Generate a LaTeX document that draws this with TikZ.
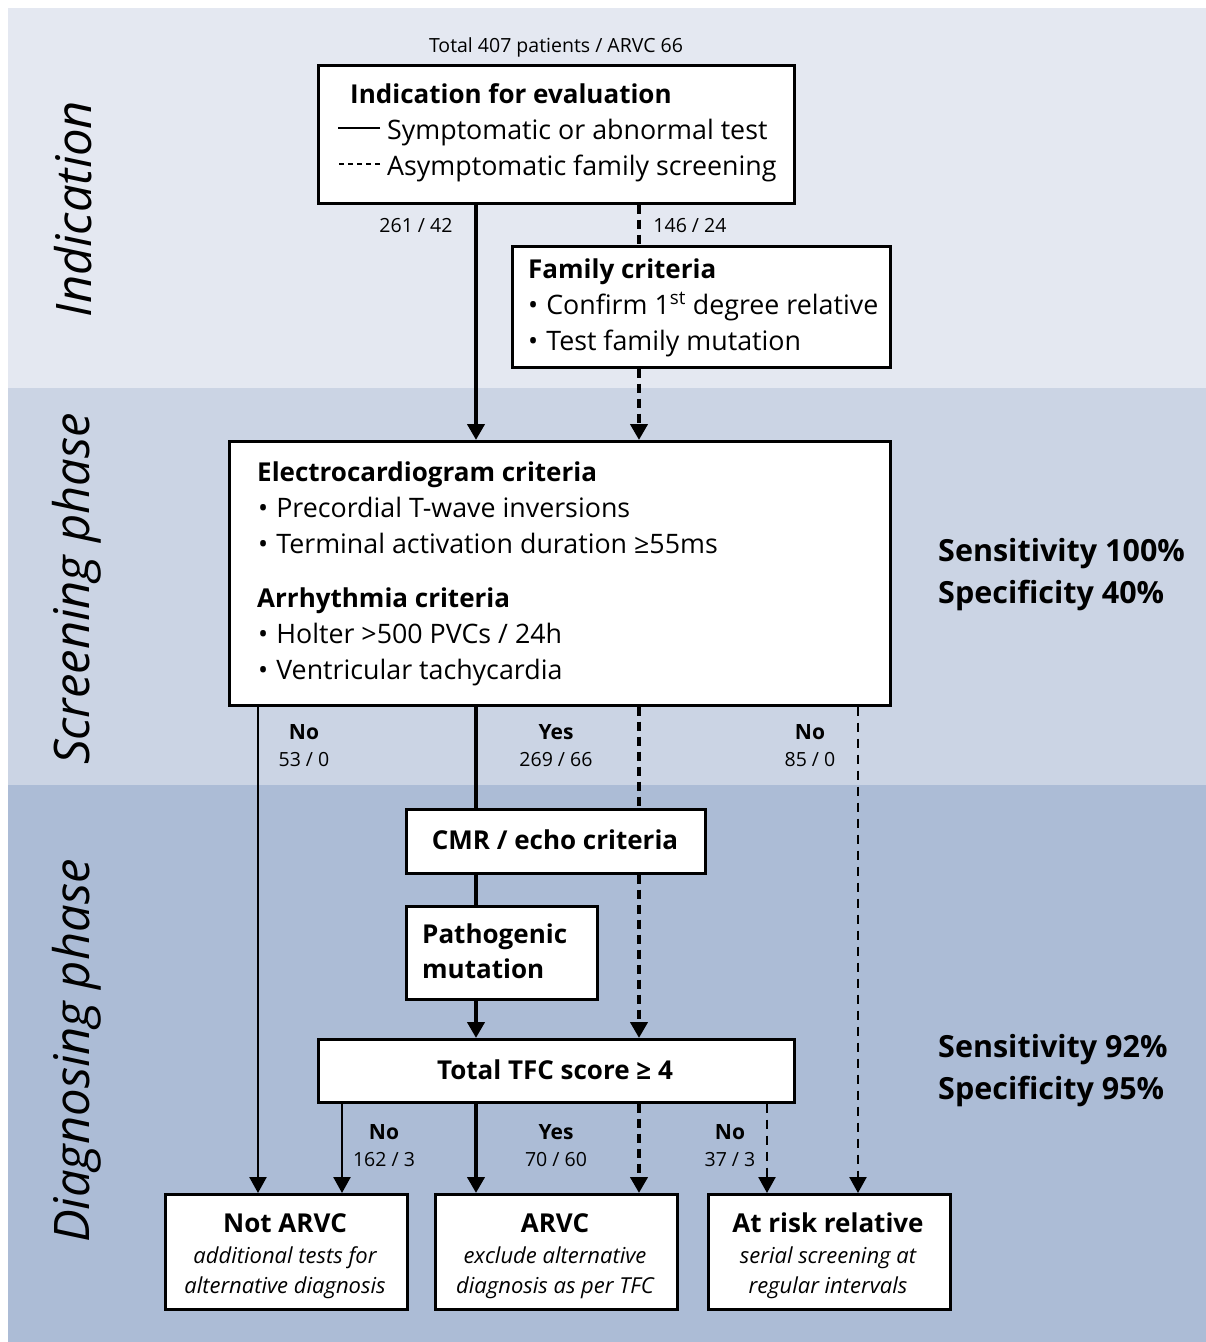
\documentclass[tikz,border=0pt]{standalone}
\usepackage{fontspec}
\setmainfont{Open Sans}
\usetikzlibrary{arrows.meta}

\definecolor{bandind}{RGB}{228,232,241}
\definecolor{bandscr}{RGB}{203,212,228}
\definecolor{banddia}{RGB}{172,188,214}

\tikzset{
  box/.style={draw, line width=2.5pt, fill=white, inner sep=0pt, anchor=north west},
  txt/.style={anchor=base west, inner sep=0pt, font=\fontsize{26.8}{30}\selectfont},
  head/.style={txt, font=\fontsize{26}{30}\selectfont\bfseries},
  note/.style={anchor=base, inner sep=0pt, font=\fontsize{22}{26}\selectfont\itshape},
  count/.style={anchor=base, inner sep=0pt, font=\fontsize{19.5}{24}\selectfont},
  answer/.style={anchor=base, inner sep=0pt, font=\fontsize{21}{24}\selectfont\bfseries},
  stat/.style={anchor=base west, inner sep=0pt, font=\fontsize{30.5}{32}\selectfont\bfseries},
  phase/.style={rotate=90, anchor=base, inner sep=0pt, font=\fontsize{49}{49}\selectfont\itshape},
  sym/.style={line width=4pt},
  symthin/.style={line width=2.5pt},
  fam/.style={line width=4.5pt, dash pattern=on 9pt off 6pt},
  famthin/.style={line width=2.5pt, dash pattern=on 9pt off 7pt},
  tip/.style={-{Triangle[width=17pt,length=16pt]}}
}

\begin{document}
\begin{tikzpicture}[x=1pt, y=-1pt]
        \useasboundingbox (0,0) rectangle (1206,1342);

        % Phase bands
        \fill[bandind] (8,8) rectangle (1206,388);
        \fill[bandscr] (8,388) rectangle (1206,785);
        \fill[banddia] (8,785) rectangle (1206,1342);

        \node[phase] (ph-ind) at (91,209) {Indication};
        \node[phase] (ph-scr) at (89,589) {Screening phase};
        \node[phase] (ph-dia) at (89,1051) {Diagnosing phase};

        % Columns of the connectors
        \coordinate (xA) at (258,0);
        \coordinate (xB) at (342,0);
        \coordinate (xC) at (476,0);
        \coordinate (xD) at (639,0);
        \coordinate (xE) at (767,0);
        \coordinate (xF) at (858,0);

        % Boxes
        \node[box, minimum width=476pt, minimum height=138pt] (indic) at (317,64) {};
        \node[box, minimum width=378pt, minimum height=121pt] (family) at (511,245) {};
        \node[box, minimum width=661pt, minimum height=264pt] (ecg) at (228,440) {};
        \node[box, minimum width=299pt, minimum height=64pt] (cmr) at (405,808) {};
        \node[box, minimum width=191pt, minimum height=93pt] (patho) at (405,905) {};
        \node[box, minimum width=476pt, minimum height=63pt] (tfc) at (317,1038) {};

        % Outcomes
        \foreach \x/\nm/\t/\la/\lb in {
            164/notarvc/Not ARVC/additional tests for/alternative diagnosis,
            434/arvc/ARVC/exclude alternative/diagnosis as per TFC,
            707/atrisk/At risk relative/serial screening at/regular intervals
        } {
            \node[box, minimum width=242pt, minimum height=115pt] (\nm) at (\x,1193) {};
            \node[head, anchor=base] (\nm-t) at (\x+121,1232) {\t};
            \node[note] (\nm-a) at (\x+121,1263) {\la};
            \node[note] (\nm-b) at (\x+121,1293) {\lb};
        }

        % Texts in the boxes
        \node[count] (total) at (556,52) {Total 407 patients / ARVC 66};
        \node[head] (indic-t) at (350,103) {Indication for evaluation};
        \node[txt] (indic-1) at (387,139) {Symptomatic or abnormal test};
        \node[txt] (indic-2) at (387,175) {Asymptomatic family screening};
        \draw[line width=2pt] ([shift={(-7pt,4pt)}]indic-1.west) -- ++(-42,0);
        \draw[line width=2pt, dash pattern=on 5pt off 4pt] ([shift={(-7pt,4pt)}]indic-2.west) -- ++(-42,0);

        \node[head] (family-t) at (528,278) {Family criteria};
        \node[txt] (family-1) at (528,314) {•\hspace{0.3em}Confirm 1\textsuperscript{st} degree relative};
        \node[txt] (family-2) at (528,350) {•\hspace{0.3em}Test family mutation};

        \node[head] (ecg-t) at (257,481) {Electrocardiogram criteria};
        \node[txt] (ecg-1) at (258,517) {•\hspace{0.3em}Precordial T-wave inversions};
        \node[txt] (ecg-2) at (258,553) {•\hspace{0.3em}Terminal activation duration ≥55ms};
        \node[head] (arr-t) at (257,607) {Arrhythmia criteria};
        \node[txt] (arr-1) at (258,643) {•\hspace{0.3em}Holter >500 PVCs / 24h};
        \node[txt] (arr-2) at (258,679) {•\hspace{0.3em}Ventricular tachycardia};

        \node[head, anchor=base] (cmr-t) at (555,849) {CMR / echo criteria};
        \node[head] (patho-a) at (422,943) {Pathogenic};
        \node[head] (patho-b) at (422,978) {mutation};
        \node[head, anchor=base] (tfc-t) at (555,1079) {Total TFC score ≥ 4};

        % Sensitivity / specificity
        \node[stat] (sens1) at (938,561) {Sensitivity 100\%};
        \node[stat] (spec1) at (938,603) {Specificity 40\%};
        \node[stat] (sens2) at (938,1057) {Sensitivity 92\%};
        \node[stat] (spec2) at (938,1099) {Specificity 95\%};

        % Indication -> screening
        \draw[sym, tip] (indic.south -| xC) -- (ecg.north -| xC);
        \draw[fam] (indic.south -| xD) -- (family.north -| xD);
        \draw[fam, tip] (family.south -| xD) -- (ecg.north -| xD);
        \node[count] (n-sym) at (416,232) {261 / 42};
        \node[count] (n-fam) at (690,232) {146 / 24};

        % Screening -> diagnosing
        \draw[symthin, tip] (ecg.south -| xA) -- (notarvc.north -| xA);
        \draw[sym] (ecg.south -| xC) -- (cmr.north -| xC);
        \draw[fam] (ecg.south -| xD) -- (cmr.north -| xD);
        \draw[famthin, tip] (ecg.south -| xF) -- (atrisk.north -| xF);
        \draw[sym] (cmr.south -| xC) -- (patho.north -| xC);
        \draw[sym, tip] (patho.south -| xC) -- (tfc.north -| xC);
        \draw[fam, tip] (cmr.south -| xD) -- (tfc.north -| xD);

        % TFC -> outcomes
        \draw[symthin, tip] (tfc.south -| xB) -- (notarvc.north -| xB);
        \draw[sym, tip] (tfc.south -| xC) -- (arvc.north -| xC);
        \draw[fam, tip] (tfc.south -| xD) -- (arvc.north -| xD);
        \draw[famthin, tip] (tfc.south -| xE) -- (atrisk.north -| xE);

        % Yes / No labels
        \foreach \x/\y/\ans/\num in {
            304/739/No/{53 / 0}, 556/739/Yes/{269 / 66}, 810/739/No/{85 / 0},
            384/1139/No/{162 / 3}, 556/1139/Yes/{70 / 60}, 730/1139/No/{37 / 3}
        } {
            \node[answer] (ans-\x-\y) at (\x,\y) {\ans};
            \node[count] (num-\x-\y) at (\x,\y+27) {\num};
        }
\end{tikzpicture}
\end{document}
